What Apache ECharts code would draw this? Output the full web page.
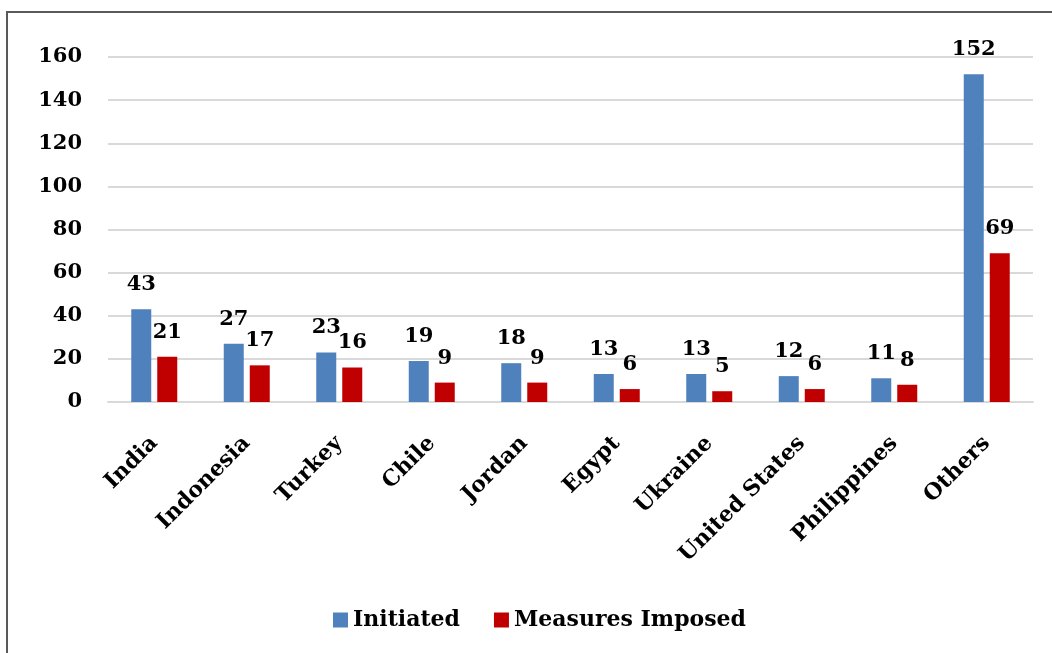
<!DOCTYPE html>
<html>
<head>
<meta charset="utf-8">
<style>
  html, body { margin: 0; padding: 0; background: #ffffff; }
  #chart { width: 1052px; height: 653px; }
</style>
<script src="https://cdn.jsdelivr.net/npm/echarts@6/dist/echarts.min.js"></script>
</head>
<body>
<div id="chart"></div>
<script>
// Countries and case counts
const countries = ['India', 'Indonesia', 'Turkey', 'Chile', 'Jordan', 'Egypt', 'Ukraine', 'United States', 'Philippines', 'Others'];
const initiated = [43, 27, 23, 19, 18, 13, 13, 12, 11, 152];
const measuresImposed = [21, 17, 16, 9, 9, 6, 5, 6, 8, 69];
const seriesNames = ['Initiated', 'Measures Imposed'];

const FONT = "'DejaVu Serif', serif";
const FONT_SIZE = 21;
const textStyle = { fontFamily: FONT, fontWeight: 'bold', fontSize: FONT_SIZE, color: '#000' };

const chart = echarts.init(document.getElementById('chart'));

const valueLabel = {
  show: true,
  position: 'top',
  distance: 14,
  fontFamily: FONT,
  fontWeight: 'bold',
  fontSize: FONT_SIZE,
  color: '#000'
};

chart.setOption({
  animation: false,
  backgroundColor: '#ffffff',
  graphic: [{
    type: 'rect',
    shape: { x: 7, y: 12, width: 1200, height: 800 },
    style: { fill: 'none', stroke: '#595959', lineWidth: 2 },
    silent: true,
    z: 100
  }],
  grid: { left: 108, right: 19, top: 57, bottom: 251 },
  legend: {
    data: seriesNames,
    left: 328,
    top: 604,
    itemWidth: 15,
    itemHeight: 15,
    itemGap: 34,
    icon: 'rect',
    textStyle: Object.assign({}, textStyle, { fontSize: 22, padding: [0, 0, 0, 0] })
  },
  xAxis: {
    type: 'category',
    data: countries,
    axisLine: { show: true, lineStyle: { color: '#d9d9d9', width: 2 } },
    axisTick: { show: false },
    axisLabel: Object.assign({}, textStyle, { fontSize: 22, rotate: 45, margin: 38, interval: 0 })
  },
  yAxis: {
    type: 'value',
    min: 0,
    max: 160,
    interval: 20,
    axisLine: { show: false },
    axisTick: { show: false },
    splitLine: { lineStyle: { color: '#d9d9d9', width: 2 } },
    axisLabel: Object.assign({}, textStyle, { margin: 26 })
  },
  series: [
    {
      name: seriesNames[0],
      type: 'bar',
      data: initiated,
      barWidth: 20,
      barGap: '30%',
      itemStyle: { color: '#4F81BD' },
      label: valueLabel
    },
    {
      name: seriesNames[1],
      type: 'bar',
      data: measuresImposed,
      barWidth: 20,
      itemStyle: { color: '#C00000' },
      label: valueLabel
    }
  ]
});
</script>
</body>
</html>
